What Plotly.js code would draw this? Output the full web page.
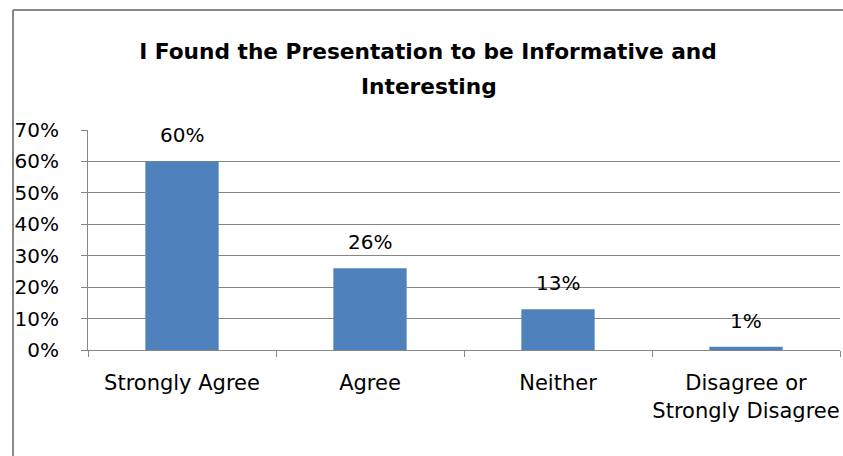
<!DOCTYPE html>
<html>
<head>
<meta charset="utf-8">
<script src="https://cdn.plot.ly/plotly-3.0.1.min.js"></script>
<style>
  html, body { margin: 0; padding: 0; background: #ffffff; }
  #chart { width: 843px; height: 456px; }
</style>
</head>
<body>
<div id="chart"></div>
<script>
const categories = ["Strongly Agree", "Agree", "Neither", "Disagree or<br>Strongly Disagree"];
const values = [0.60, 0.26, 0.13, 0.01];
const yTickValues = [0, 0.1, 0.2, 0.3, 0.4, 0.5, 0.6, 0.7];
const titleLine1 = "I Found the Presentation to be Informative and";
const titleLine2 = "Interesting";

const FONT = "'DejaVu Sans', 'Liberation Sans', sans-serif";
const W = 843, H = 456;
const M = { l: 88, r: 3, t: 130, b: 106 };
const pw = W - M.l - M.r, ph = H - M.t - M.b;
const px = x => (x - M.l) / pw;
const py = y => (H - M.b - y) / ph;

const trace = {
  type: "bar",
  x: categories,
  y: values,
  marker: { color: "#4F81BD" },
  hoverinfo: "skip"
};

const labelAnnotations = categories.map((c, i) => ({
  x: c, y: values[i], xref: "x", yref: "y",
  text: Math.round(values[i] * 100) + "%",
  showarrow: false, yanchor: "bottom", yshift: 12,
  font: { family: FONT, size: 20, color: "#000000" }
}));

const layout = {
  width: W, height: H,
  margin: M,
  paper_bgcolor: "#ffffff",
  plot_bgcolor: "#ffffff",
  showlegend: false,
  bargap: 0.61,
  font: { family: FONT, size: 20, color: "#000000" },
  title: {
    text: titleLine1,
    font: { family: FONT, size: 21.7, color: "#000000", weight: "bold" },
    x: px(428), xref: "paper", xanchor: "center",
    y: 1 - 51 / H, yanchor: "middle", yref: "container"
  },
  annotations: labelAnnotations.concat([{
    text: titleLine2, xref: "paper", yref: "paper",
    x: px(429), y: py(87), xanchor: "center", yanchor: "middle",
    showarrow: false,
    font: { family: FONT, size: 21.7, color: "#000000", weight: "bold" }
  }]),
  xaxis: {
    type: "category",
    showline: true, linecolor: "#868686", linewidth: 1,
    ticks: "outside", tickson: "boundaries", ticklen: 6, tickcolor: "#868686",
    showgrid: false, zeroline: false,
    tickangle: 0,
    ticklabelstandoff: 14,
    tickfont: { family: FONT, size: 21, color: "#000000" },
    automargin: false
  },
  yaxis: {
    range: [0, 0.7],
    tickvals: yTickValues,
    tickformat: ".0%",
    showline: true, linecolor: "#868686", linewidth: 1,
    ticks: "outside", ticklen: 6, tickcolor: "#868686",
    showgrid: true, gridcolor: "#868686", gridwidth: 1,
    zeroline: false,
    ticklabelstandoff: 18,
    tickfont: { family: FONT, size: 20, color: "#000000" },
    automargin: false
  },
  shapes: [
    { type: "line", xref: "paper", yref: "paper", x0: px(13), x1: px(845), y0: py(10), y1: py(10), line: { color: "#898989", width: 2 } },
    { type: "line", xref: "paper", yref: "paper", x0: px(13), x1: px(13), y0: py(10), y1: py(460), line: { color: "#898989", width: 2 } }
  ]
};

Plotly.newPlot("chart", [trace], layout, { staticPlot: true, displayModeBar: false });
</script>
</body>
</html>
